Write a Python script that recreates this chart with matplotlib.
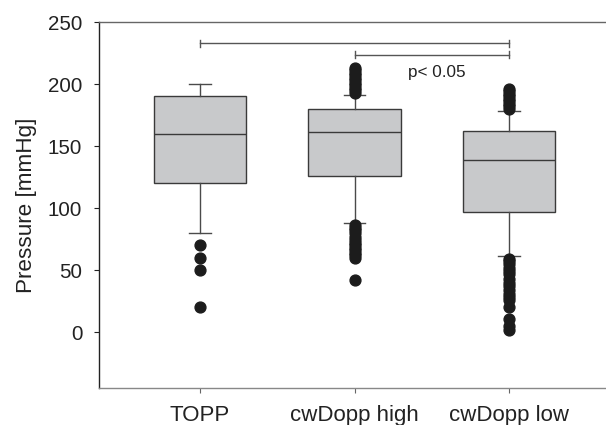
import matplotlib
matplotlib.use("Agg")
import matplotlib.pyplot as plt

plt.rcParams['font.family'] = ['Liberation Sans', 'DejaVu Sans']

# Group summaries (mmHg)
groups = ["TOPP", "cwDopp high", "cwDopp low"]
medians = [160, 161, 139]
q1 = [120, 126, 97]
q3 = [190, 180, 162]
whisker_low = [80, 88, 61]
whisker_high = [200, 191, 178]
outliers = [
    [70, 60, 50, 20],
    [213, 211, 209, 207, 205, 203, 201, 199, 197, 195, 193,
     86, 84, 82, 80, 77, 74, 72, 70, 68, 66, 64, 62, 60, 42],
    [196, 194, 192, 190, 188, 186, 184, 182, 180,
     59, 57, 55, 52, 49, 47, 43, 40, 37, 34, 31, 28, 26, 20, 11, 5, 2],
]

# Significance brackets: (from group, to group, height)
brackets = [(1, 3, 233), (2, 3, 223.5)]
sig_label = "p< 0.05"
sig_pos = (2.53, 209)

fig = plt.figure(figsize=(6.06, 4.25), dpi=100)
ax = fig.add_axes([0.1634, 0.0871, 0.8366, 0.8611])

stats = []
for i, name in enumerate(groups):
    stats.append(dict(label=name, med=medians[i], q1=q1[i], q3=q3[i],
                      whislo=whisker_low[i], whishi=whisker_high[i],
                      fliers=outliers[i]))

positions = [1, 2, 3]
ax.bxp(stats, positions=positions, widths=0.6, capwidths=0.14,
       patch_artist=True,
       boxprops=dict(facecolor="#c8c9cb", edgecolor="#3a3a3a", linewidth=1.0),
       medianprops=dict(color="#3a3a3a", linewidth=1.0),
       whiskerprops=dict(color="#4a4a4a", linewidth=1.0),
       capprops=dict(color="#4a4a4a", linewidth=1.0),
       flierprops=dict(marker="o", markersize=7.8, markerfacecolor="#1c1c1c",
                       markeredgecolor="#1c1c1c", linestyle="none"))

for a, b, h in brackets:
    ax.plot([a, b], [h, h], color="#555555", linewidth=1.0, zorder=3)
    ax.plot([a, a], [h - 2.8, h + 2.8], color="#555555", linewidth=1.0, zorder=3)
    ax.plot([b, b], [h - 2.8, h + 2.8], color="#555555", linewidth=1.0, zorder=3)
ax.text(sig_pos[0], sig_pos[1], sig_label, fontsize=12.3, color="#222222",
        ha="center", va="center")

ax.set_xlim(0.346, 3.628)
ax.set_ylim(-45, 250)
ax.set_yticks([0, 50, 100, 150, 200, 250])
ax.set_xticks(positions)
ax.set_xticklabels(groups)
ax.set_ylabel("Pressure [mmHg]", fontsize=16.2, color="#222222", labelpad=8)

ax.spines["right"].set_visible(False)
ax.spines["left"].set_color("#222222")
ax.spines["top"].set_color("#666666")
ax.spines["bottom"].set_color("#888888")
for s in ax.spines.values():
    s.set_linewidth(1.0)

ax.tick_params(axis="y", direction="out", length=3.5, width=0.8, pad=8.5,
               labelsize=14.8, colors="#222222")
ax.tick_params(axis="x", direction="out", length=3.5, width=0.8, pad=8.5,
               labelsize=16, colors="#222222")
ax.tick_params(axis="x", color="#666666")

fig.savefig("out.png", dpi=100)
